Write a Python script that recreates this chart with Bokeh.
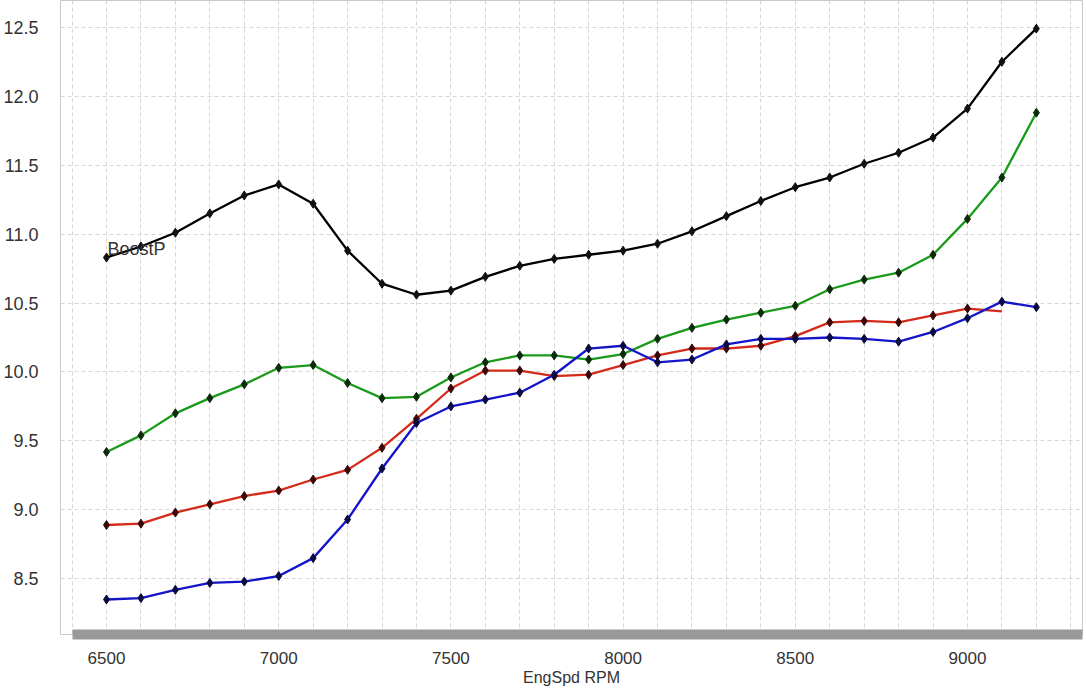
from bokeh.plotting import figure
from bokeh.models import Range1d, SingleIntervalTicker, PrintfTickFormatter, Label
from bokeh.embed import file_html
from bokeh.resources import INLINE

# ---- data ----
rpm = [6500, 6600, 6700, 6800, 6900, 7000, 7100, 7200, 7300, 7400,
       7500, 7600, 7700, 7800, 7900, 8000, 8100, 8200, 8300, 8400,
       8500, 8600, 8700, 8800, 8900, 9000, 9100, 9200]

boost_p = [10.83, 10.91, 11.01, 11.15, 11.28, 11.36, 11.22, 10.88, 10.64, 10.56,
           10.59, 10.69, 10.77, 10.82, 10.85, 10.88, 10.93, 11.02, 11.13, 11.24,
           11.34, 11.41, 11.51, 11.59, 11.70, 11.91, 12.25, 12.49]

green_vals = [9.42, 9.54, 9.70, 9.81, 9.91, 10.03, 10.05, 9.92, 9.81, 9.82,
              9.96, 10.07, 10.12, 10.12, 10.09, 10.13, 10.24, 10.32, 10.38, 10.43,
              10.48, 10.60, 10.67, 10.72, 10.85, 11.11, 11.41, 11.88]

red_rpm = [6500, 6600, 6700, 6800, 6900, 7000, 7100, 7200, 7300, 7400,
           7500, 7600, 7700, 7800, 7900, 8000, 8100, 8200, 8300, 8400,
           8500, 8600, 8700, 8800, 8900, 9000, 9100]
red_vals = [8.89, 8.90, 8.98, 9.04, 9.10, 9.14, 9.22, 9.29, 9.45, 9.66,
            9.88, 10.01, 10.01, 9.97, 9.98, 10.05, 10.12, 10.17, 10.17, 10.19,
            10.26, 10.36, 10.37, 10.36, 10.41, 10.46, 10.44]

blue_vals = [8.35, 8.36, 8.42, 8.47, 8.48, 8.52, 8.65, 8.93, 9.30, 9.63,
             9.75, 9.80, 9.85, 9.98, 10.17, 10.19, 10.07, 10.09, 10.20, 10.24,
             10.24, 10.25, 10.24, 10.22, 10.29, 10.39, 10.51, 10.47]

series_label = "BoostP"
x_title = "EngSpd RPM"

FONT = "Liberation Sans"

p = figure(frame_width=1022, frame_height=634,
           x_range=Range1d(6366.4, 9334), y_range=Range1d(8.096, 12.694),
           output_backend="svg", toolbar_location=None,
           min_border_left=54, min_border_top=0, min_border_right=2,
           min_border_bottom=50,
           background_fill_color="white", border_fill_color="white")

p.outline_line_color = "#c8c8c8"
p.outline_line_width = 1

# grids
p.xgrid.ticker = SingleIntervalTicker(interval=100)
p.ygrid.ticker = SingleIntervalTicker(interval=0.5)
for g in (p.xgrid, p.ygrid):
    g.grid_line_color = "#d6d6d6"
    g.grid_line_dash = "4 3"
    g.grid_line_width = 1

# x axis: thick gray bar
xa = p.xaxis[0]
xa.ticker = SingleIntervalTicker(interval=500)
xa.bounds = (6400, 9334)
xa.axis_line_width = 10
xa.axis_line_color = "#999999"
xa.major_tick_line_color = None
xa.minor_tick_line_color = None
xa.major_label_standoff = 11
xa.major_label_text_font = FONT
xa.major_label_text_font_size = "17px"
xa.major_label_text_color = "#333333"
xa.axis_label = x_title
xa.axis_label_standoff = 2
xa.axis_label_text_font = FONT
xa.axis_label_text_font_size = "16px"
xa.axis_label_text_font_style = "normal"
xa.axis_label_text_color = "#333333"

ya = p.yaxis[0]
ya.ticker = SingleIntervalTicker(interval=0.5)
ya.formatter = PrintfTickFormatter(format="%.1f")
ya.axis_line_color = None
ya.major_tick_line_color = None
ya.minor_tick_line_color = None
ya.major_label_standoff = 16
ya.major_label_text_font = FONT
ya.major_label_text_font_size = "18px"
ya.major_label_text_color = "#333333"

# lines
LW = 2.3
p.line(rpm, boost_p, line_color="#000000", line_width=LW)
p.scatter(rpm, boost_p, marker="diamond", size=9, fill_color="#111111", line_color="#111111")

p.line(rpm, green_vals, line_color="#1a9a1a", line_width=LW)
p.scatter(rpm, green_vals, marker="diamond", size=9, fill_color="#0d2a0d", line_color="#0d2a0d")

p.line(red_rpm, red_vals, line_color="#d42a1a", line_width=LW)
p.scatter(red_rpm[:-1], red_vals[:-1], marker="diamond", size=9, fill_color="#3a0808", line_color="#3a0808")

p.line(rpm, blue_vals, line_color="#1414c8", line_width=LW)
p.scatter(rpm, blue_vals, marker="diamond", size=9, fill_color="#0a0a40", line_color="#0a0a40")

p.add_layout(Label(x=rpm[0], y=boost_p[0], text=series_label, x_offset=1, y_offset=9,
                   text_baseline="alphabetic", text_font=FONT, text_font_size="18px",
                   text_color="#333333"))

open("out.html", "w").write(file_html(p, INLINE))
